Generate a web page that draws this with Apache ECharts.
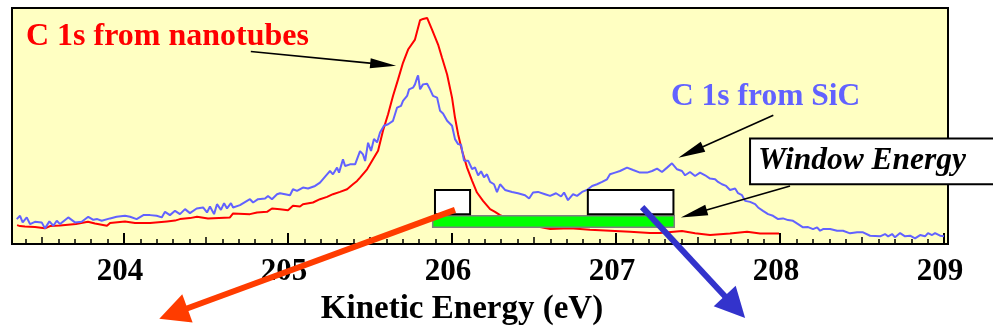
<!DOCTYPE html>
<html>
<head>
<meta charset="utf-8">
<script src="https://cdn.jsdelivr.net/npm/echarts@6/dist/echarts.min.js"></script>
<style>
  html, body { margin: 0; padding: 0; background: #ffffff; }
  #chart { width: 993px; height: 331px; }
</style>
</head>
<body>
<div id="chart"></div>
<script>
// C 1s photoemission spectra, kinetic energy in eV, intensity in arbitrary units.
const nanotubeEnergy = [
  203.348, 203.366, 203.396, 203.457, 203.518, 203.549, 203.610, 203.707, 203.780, 203.823,
  203.896, 203.915, 204.006, 204.067, 204.159, 204.262, 204.311, 204.341, 204.402, 204.445,
  204.512, 204.646, 204.665, 204.768, 204.811, 204.872, 204.902, 204.951, 205.000, 205.030,
  205.073, 205.091, 205.152, 205.195, 205.238, 205.274, 205.317, 205.360, 205.396, 205.421,
  205.439, 205.482, 205.518, 205.549, 205.579, 205.610, 205.640, 205.671, 205.701, 205.732,
  205.774, 205.805, 205.823, 205.848, 205.878, 205.915, 205.939, 205.970, 206.000, 206.018,
  206.037, 206.061, 206.091, 206.122, 206.152, 206.189, 206.232, 206.262, 206.293, 206.354,
  206.445, 206.537, 206.598, 206.720, 206.841, 206.963, 207.085, 207.207, 207.268, 207.402,
  207.482, 207.573, 207.695, 207.799, 207.878, 207.994
];
const nanotubeIntensity = [
  19, 18, 17.5, 17, 15.7, 18, 18.5, 20, 22.3, 20.5,
  18.3, 21, 22.7, 21, 21, 22.7, 23.5, 25, 26, 27.3,
  25.7, 26.7, 30.7, 30, 31.7, 32.3, 35.7, 35, 34, 38.3,
  37.7, 40, 41.7, 45, 47.3, 50, 52.3, 55, 60, 63.3,
  66.7, 75, 85, 93.7, 113.7, 130.3, 148.7, 165.3, 182, 195.3,
  205.3, 224.7, 226, 227, 215.3, 200.3, 187, 170.3, 147, 127,
  110.3, 93.7, 77, 63.7, 51.7, 43.3, 35, 32.3, 29, 25,
  20, 17, 15, 15.7, 14.3, 13.3, 12.3, 11, 11, 13,
  10.7, 9, 10.5, 12.3, 10.5, 10.5
];
const sicEnergy = [
  203.346, 203.366, 203.382, 203.407, 203.427, 203.457, 203.498, 203.518, 203.545, 203.569,
  203.590, 203.610, 203.660, 203.701, 203.742, 203.782, 203.813, 203.837, 203.864, 203.915,
  203.955, 204.006, 204.037, 204.077, 204.118, 204.159, 204.199, 204.230, 204.250, 204.280,
  204.311, 204.341, 204.372, 204.402, 204.443, 204.482, 204.506, 204.524, 204.549, 204.567,
  204.591, 204.610, 204.628, 204.652, 204.665, 204.707, 204.750, 204.768, 204.787, 204.817,
  204.860, 204.878, 204.902, 204.933, 204.951, 204.982, 205.012, 205.030, 205.055, 205.091,
  205.122, 205.165, 205.195, 205.238, 205.256, 205.274, 205.299, 205.311, 205.335, 205.348,
  205.378, 205.409, 205.439, 205.457, 205.470, 205.488, 205.506, 205.524, 205.543, 205.561,
  205.585, 205.610, 205.640, 205.665, 205.689, 205.701, 205.726, 205.738, 205.762, 205.774,
  205.787, 205.793, 205.805, 205.823, 205.848, 205.866, 205.884, 205.909, 205.927, 205.945,
  205.970, 206.000, 206.018, 206.037, 206.055, 206.073, 206.098, 206.122, 206.140, 206.159,
  206.177, 206.195, 206.213, 206.232, 206.256, 206.274, 206.293, 206.323, 206.366, 206.402,
  206.445, 206.470, 206.494, 206.524, 206.567, 206.598, 206.634, 206.665, 206.683, 206.707,
  206.738, 206.762, 206.793, 206.823, 206.854, 206.884, 206.915, 206.945, 206.963, 206.994,
  207.024, 207.067, 207.104, 207.146, 207.189, 207.220, 207.250, 207.280, 207.311, 207.341,
  207.372, 207.402, 207.421, 207.451, 207.482, 207.512, 207.543, 207.573, 207.604, 207.622,
  207.646, 207.671, 207.695, 207.726, 207.744, 207.768, 207.787, 207.817, 207.848, 207.866,
  207.896, 207.927, 207.957, 207.988, 208.018, 208.049, 208.079, 208.110, 208.140, 208.171,
  208.201, 208.226, 208.244, 208.262, 208.305, 208.348, 208.384, 208.427, 208.470, 208.506,
  208.549, 208.610, 208.640, 208.659, 208.683, 208.701, 208.732, 208.762, 208.793, 208.823,
  208.854, 208.884, 208.902, 208.927, 208.945, 208.976, 209.000
];
const sicIntensity = [
  25, 28.3, 21.7, 26.7, 20, 22.3, 21.7, 15.7, 22.7, 18.3,
  23.3, 20, 26.7, 21.7, 22.3, 27.3, 24.3, 25, 23.3, 25.7,
  27.3, 28.3, 27.3, 25, 29, 29, 28.3, 26.7, 32.3, 29,
  33.3, 30, 35, 31, 35.7, 36.7, 31.7, 37.7, 30, 40,
  34.3, 41, 35.7, 41, 36.7, 39, 43.3, 45, 41.7, 45,
  45.7, 48.3, 45, 50, 51, 50, 49, 55, 53.3, 56.7,
  55.7, 58.3, 61.7, 70, 73.3, 70, 76.7, 71.7, 85, 78.3,
  80, 80, 93.3, 90, 83.3, 101.7, 93.5, 105.5, 102, 112,
  118.7, 120.3, 123.7, 137, 138.7, 143.7, 148.7, 155.3, 157, 160.3,
  167, 169.3, 155.3, 160.3, 161, 155.3, 148.7, 147, 133.7, 131,
  123.7, 118.7, 105.3, 100.3, 99.7, 83.7, 83.7, 75.3, 77, 69,
  73, 67, 70, 62.3, 60, 52, 60, 54.3, 52.3, 51,
  49, 45.7, 51.7, 52.3, 50, 48.3, 51, 47.7, 51.7, 44,
  50, 48.3, 52.3, 54.3, 58.3, 60, 62.3, 65, 70, 71.7,
  73.3, 76.7, 74.3, 71.7, 71.7, 73.3, 75.7, 72.3, 76.7, 81,
  75, 73.3, 69, 72.3, 68.3, 71.7, 69, 65.7, 65, 62.3,
  60, 58.3, 54.3, 55.7, 51, 49, 43.3, 42.3, 40, 36.7,
  33.3, 30, 28.3, 25, 25.7, 24, 23.3, 20, 16.7, 17,
  15, 16.7, 13.3, 15, 15, 13.3, 13.3, 10.7, 11.7, 11.7,
  8.3, 7.7, 10, 7.7, 10, 6.7, 11, 7.7, 8.3, 5.7,
  9, 7.7, 11, 9, 11, 8.3, 7.7
];
const tickLabels = [204, 205, 206, 207, 208, 209];
// Energy windows (eV): full window band and the two sampled sub-windows
const windowBand = [205.882, 207.355];
const windowBoxes = [[205.896, 206.110], [206.828, 207.350]];

const X_MIN = 203.317, X_MAX = 209.024;
const SERIF = "'Liberation Serif', 'Times New Roman', Times, serif";

const halfTicks = [];
for (let k = 2035; k <= 2085; k += 10) halfTicks.push(k / 10);
const minorTicks = [];
for (let k = 2034; k <= 2090; k++) minorTicks.push(k / 10);

const zip = (xs, ys) => xs.map((x, i) => [x, ys[i]]);

const chart = echarts.init(document.getElementById('chart'), null, { renderer: 'canvas' });

function tickAxis(values, len, width) {
  return {
    type: 'value', min: X_MIN, max: X_MAX, position: 'bottom',
    axisLine: { show: false, onZero: false },
    axisTick: { show: true, inside: true, length: len, customValues: values,
                lineStyle: { color: '#000', width: width } },
    axisLabel: { show: false },
    splitLine: { show: false }
  };
}

chart.setOption({
  animation: false,
  grid: {
    left: 12, right: 45, top: 8, bottom: 86,
    show: true, backgroundColor: '#FFFFC2',
    borderColor: '#000', borderWidth: 2
  },
  xAxis: [
    {
      type: 'value', min: X_MIN, max: X_MAX, position: 'bottom',
      axisLine: { show: true, onZero: false, lineStyle: { color: '#000', width: 2 } },
      axisTick: { show: true, inside: true, length: 11, customValues: tickLabels,
                  lineStyle: { color: '#000', width: 2 } },
      axisLabel: {
        customValues: tickLabels, color: '#000', fontFamily: SERIF,
        fontWeight: 'bold', fontSize: 31, margin: 12, padding: [0, 8, 0, 0]
      },
      splitLine: { show: false },
      name: 'Kinetic Energy (eV)', nameLocation: 'middle', nameGap: 49,
      nameTextStyle: { color: '#000', fontFamily: SERIF, fontWeight: 'bold',
                       fontSize: 33, padding: [0, 36, 0, 0] }
    },
    tickAxis(halfTicks, 7, 1.5),
    tickAxis(minorTicks, 5, 1.5)
  ],
  yAxis: { type: 'value', min: 0, max: 237, show: false },
  series: [
    {
      name: 'C 1s from SiC', type: 'line', data: zip(sicEnergy, sicIntensity),
      showSymbol: false, lineStyle: { color: '#6262FF', width: 2 }, z: 3
    },
    {
      name: 'C 1s from nanotubes', type: 'line', data: zip(nanotubeEnergy, nanotubeIntensity),
      showSymbol: false, lineStyle: { color: '#FF0000', width: 2 }, z: 2
    }
  ]
});

// Annotation layer, placed in data coordinates (eV, intensity)
const toPx = (e, v) => chart.convertToPixel({ xAxisIndex: 0, yAxisIndex: 0 }, [e, v]);

function arrow(from, to, headLen, headHalf, width, color, z) {
  const a = toPx(from[0], from[1]), b = toPx(to[0], to[1]);
  const dx = b[0] - a[0], dy = b[1] - a[1], L = Math.hypot(dx, dy);
  const ux = dx / L, uy = dy / L;
  const bx = b[0] - ux * headLen, by = b[1] - uy * headLen;
  return [
    { type: 'line', z: z, shape: { x1: a[0], y1: a[1], x2: bx + ux * 2, y2: by + uy * 2 },
      style: { stroke: color, lineWidth: width, lineCap: 'butt' } },
    { type: 'polygon', z: z, shape: { points: [[b[0], b[1]],
        [bx - uy * headHalf, by + ux * headHalf], [bx + uy * headHalf, by - ux * headHalf]] },
      style: { fill: color } }
  ];
}

function rectBetween(e0, e1, v0, v1, style, z) {
  const p0 = toPx(e0, v1), p1 = toPx(e1, v0);
  return { type: 'rect', z: z, shape: { x: p0[0], y: p0[1], width: p1[0] - p0[0], height: p1[1] - p0[1] },
           style: style };
}

function label(text, e, v, size, font, color, z) {
  const p = toPx(e, v);
  return { type: 'text', z: z, x: p[0], y: p[1] - size * 0.33,
           style: { text: text, font: font + ' ' + size + 'px ' + SERIF, fill: color,
                    textAlign: 'left', textVerticalAlign: 'middle' } };
}

const graphics = [];
graphics.push(rectBetween(windowBand[0], windowBand[1], 16.7, 28.3,
  { fill: '#00FF00', stroke: '#808080', lineWidth: 1.5 }, 100));
windowBoxes.forEach(w => graphics.push(rectBetween(w[0], w[1], 30, 54.3,
  { fill: '#FFFFFF', stroke: '#000000', lineWidth: 2 }, 101)));
graphics.push(rectBetween(207.817, 209.45, 60, 106,
  { fill: '#FFFFFF', stroke: '#000000', lineWidth: 2 }, 101));

graphics.push(...arrow([206.018, 34.3], [204.215, -75], 30, 15, 6, '#FF3C00', 110));
graphics.push(...arrow([207.159, 37], [207.787, -74.3], 30, 15, 6, '#3333CC', 110));

graphics.push(...arrow([204.773, 193.3], [205.659, 179], 26, 5, 1.6, '#000', 120));
graphics.push(...arrow([207.959, 129.3], [207.380, 86.7], 27, 5.5, 1.6, '#000', 120));
graphics.push(...arrow([208.061, 58.3], [207.395, 26.7], 27, 5.5, 1.6, '#000', 120));

graphics.push(label('C 1s from nanotubes', 203.402, 198, 32, 'bold', '#FF0000', 120));
graphics.push(label('C 1s from SiC', 207.335, 137, 31.5, 'bold', '#6262FF', 120));
graphics.push(label('Window Energy', 207.866, 73, 31.5, 'italic bold', '#000000', 120));

chart.setOption({ graphic: graphics });
</script>
</body>
</html>
